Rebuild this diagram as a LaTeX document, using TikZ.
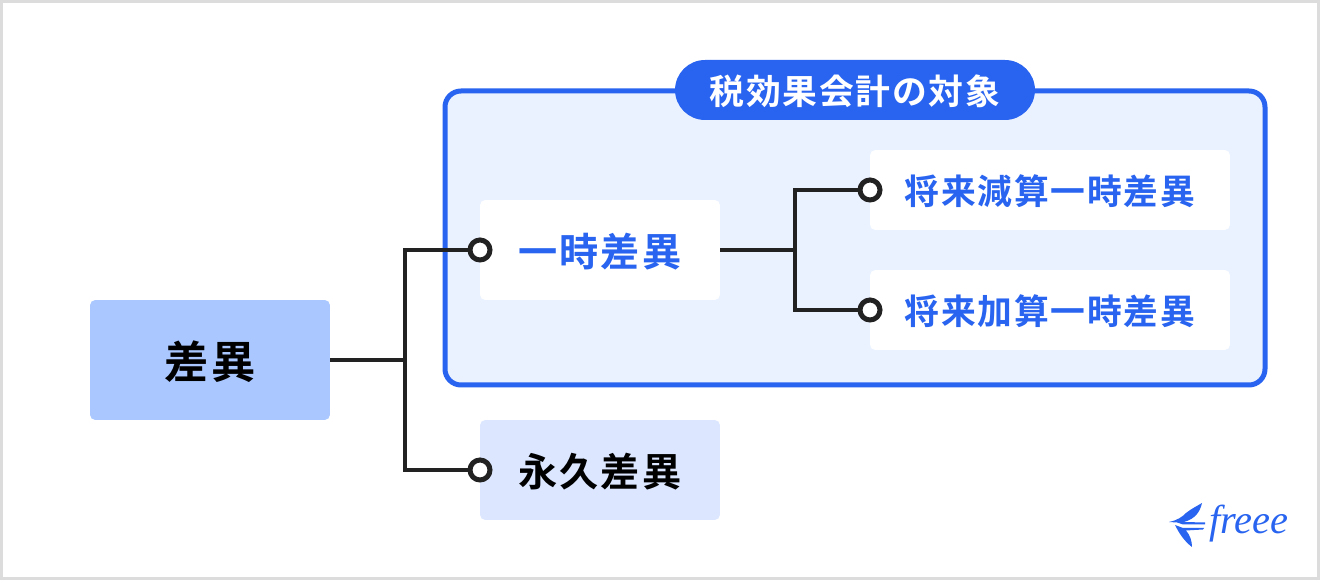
\documentclass[tikz,border=0pt]{standalone}
\usepackage{fontspec}
\setmainfont{Noto Sans CJK JP}[BoldFont=Noto Sans CJK JP Bold]
\newfontfamily\jplarge{Noto Sans CJK JP Bold}[LetterSpace=5]
\newfontfamily\jpmid{Noto Sans CJK JP Bold}[LetterSpace=5]
\newfontfamily\jpsmall{Noto Sans CJK JP Bold}[LetterSpace=5]
\newfontfamily\logofont{Liberation Serif}
\definecolor{freeeblue}{HTML}{2864F0}
\definecolor{panelblue}{HTML}{EBF2FF}
\definecolor{rootblue}{HTML}{AAC8FF}
\definecolor{paleblue}{HTML}{DCE7FF}
\definecolor{linedark}{HTML}{222222}
\definecolor{framegray}{HTML}{DCDCDC}
\tikzset{
	box/.style={rectangle, rounded corners=3pt, inner sep=0pt, text centered},
	rootbox/.style={box, fill=rootblue, text=black, minimum width=4.8cm, minimum height=2.4cm, text height=24.4pt, text depth=3pt, font=\jplarge\fontsize{25.2}{25.2}\selectfont},
	midbox/.style={box, minimum width=4.8cm, minimum height=2cm, text height=21.6pt, text depth=2.7pt, font=\jpmid\fontsize{22.3}{22.3}\selectfont},
	leafbox/.style={box, fill=white, text=freeeblue, minimum width=7.2cm, minimum height=1.6cm, text height=19.2pt, text depth=2.4pt, font=\jpsmall\fontsize{19.8}{19.8}\selectfont},
	conn/.style={draw=linedark, line width=0.095cm, line join=miter},
	dot/.style={circle, draw=linedark, fill=white, line width=0.1cm, inner sep=0pt, minimum size=0.4cm}
}
\begin{document}
\begin{tikzpicture}[x=0.02cm, y=-0.02cm]
	\useasboundingbox (0,0) rectangle (1320,580);
	\draw[draw=framegray, fill=white, line width=0.06cm] (1.5,1.5) rectangle (1318.5,578.5);
	\draw[draw=freeeblue, fill=panelblue, line width=0.1cm, rounded corners=0.32cm] (445,91) rectangle (1265,385);
	\node[box, fill=freeeblue, text=white, rounded corners=0.6cm, minimum width=7.2cm, minimum height=1.2cm, text height=18.6pt, text depth=2.4pt, font=\jpsmall\fontsize{19.8}{19.8}\selectfont] (target) at (855,90) {税効果会計の対象};
	\node[rootbox] (diff) at (210,360) {差異};
	\node[midbox, fill=white, text=freeeblue] (temp) at (600,250) {一時差異};
	\node[midbox, fill=paleblue, text=black] (perm) at (600,470) {永久差異};
	\node[leafbox] (deduct) at (1050,190) {将来減算一時差異};
	\node[leafbox] (add) at (1050,310) {将来加算一時差異};
	\coordinate (split) at (405,360);
	\coordinate (tempsplit) at (795,250);
	\draw[conn] (diff.east) -- (split);
	\draw[conn] (tempsplit |- temp.east) -- (temp.east);
	\node[dot] (tempdot) at (480,250) {};
	\node[dot] (permdot) at (480,470) {};
	\node[dot] (deductdot) at (870,190) {};
	\node[dot] (adddot) at (870,310) {};
	\draw[conn] (tempdot) -| (split) |- (permdot);
	\draw[conn] (deductdot) -| (tempsplit) |- (adddot);
	\fill[freeeblue] (1169,522) .. controls (1178,520) and (1182,517) .. (1186,513) .. controls (1191,509) and (1197,506) .. (1202,503) .. controls (1200,512) and (1195,519) .. (1184,522) -- (1205,522.5) -- (1205,524.5) -- (1183,524.5) -- (1177,522.5) -- cycle;
	\fill[freeeblue] (1175,525) -- (1183,528) -- (1204,528) -- (1203,529.5) -- (1186,530.5) .. controls (1190,535) and (1192,541) .. (1192,547) .. controls (1184,541) and (1179,533) .. (1175,525) -- cycle;
	\node[text=freeeblue, inner sep=0pt, font=\logofont\itshape\fontsize{23}{23}\selectfont] (logo) at (1249,524) {freee};
\end{tikzpicture}
\end{document}
